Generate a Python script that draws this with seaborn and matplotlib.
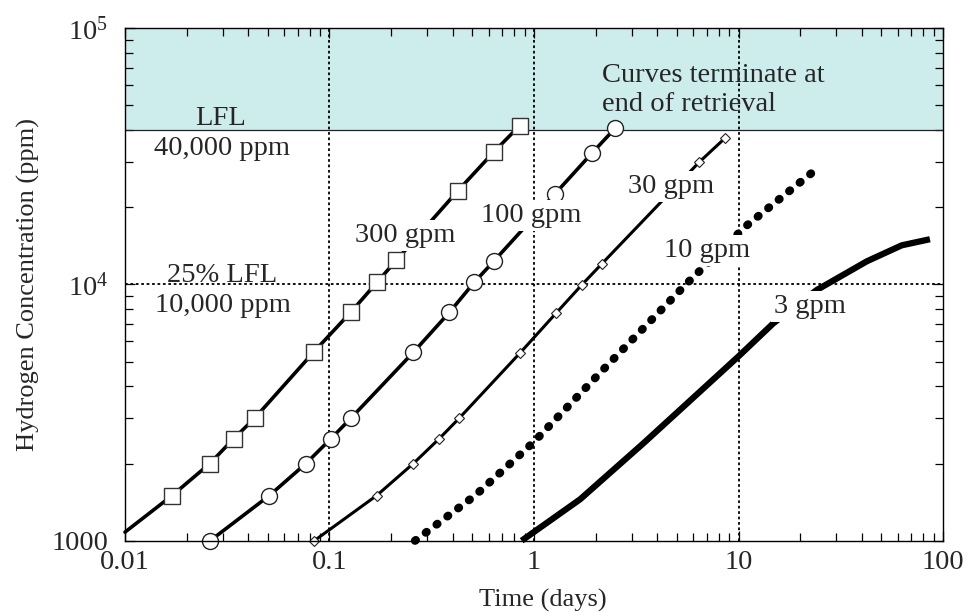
import matplotlib
matplotlib.use("Agg")
import matplotlib.pyplot as plt
import seaborn as sns
import pandas as pd
from matplotlib.ticker import LogLocator, NullFormatter

# ---------------- data ----------------
t_300 = [0.01, 0.017, 0.026, 0.034, 0.043, 0.084, 0.127, 0.171, 0.212, 0.425, 0.637, 0.851]
c_300 = [1080, 1500, 2000, 2500, 3000, 5460, 7780, 10200, 12400, 23200, 32900, 41600]

t_100 = [0.0261, 0.0508, 0.0767, 0.1016, 0.127, 0.257, 0.386, 0.510, 0.637, 1.27, 1.92, 2.49]
c_100 = [1000, 1500, 2000, 2500, 3000, 5430, 7780, 10180, 12330, 22600, 32500, 40600]

t_30 = [0.0843, 0.170, 0.257, 0.344, 0.430, 0.851, 1.28, 1.71, 2.14, 6.43, 8.59]
c_30 = [1000, 1500, 2000, 2500, 3000, 5380, 7710, 9940, 12000, 30000, 37200]

t_10 = [0.262, 0.515, 1.0, 2.10, 5.60, 10.9, 24.1]
c_10 = [1000, 1500, 2430, 4510, 10100, 16900, 28200]

t_3 = [0.87, 1.68, 3.43, 9.98, 14.8, 24.1, 42.4, 62.8, 86.3]
c_3 = [1000, 1450, 2400, 5230, 7050, 9500, 12300, 14200, 15000]

lfl = 40000
lfl_25 = 10000
grid_x = [0.1, 1, 10]

x_ticks = [0.01, 0.1, 1, 10, 100]
x_ticklabels = ["0.01", "0.1", "1", "10", "100"]
y_ticks = [1000, 10000, 100000]
y_ticklabels = ["1000", r"$\mathregular{10^4}$", r"$\mathregular{10^5}$"]

series_labels = ["300 gpm", "100 gpm", "30 gpm", "10 gpm", "3 gpm"]

# ---------------- style ----------------
sns.set_theme(style="ticks")
plt.rcParams["font.family"] = ["Liberation Serif", "DejaVu Serif"]
plt.rcParams["mathtext.fontset"] = "custom"
plt.rcParams["mathtext.rm"] = "Liberation Serif"
plt.rcParams["mathtext.it"] = "Liberation Serif:italic"
plt.rcParams["mathtext.bf"] = "Liberation Serif:bold"

FS = 20.5

fig = plt.figure(figsize=(9.68, 6.12), dpi=100)
ax = fig.add_axes([0.1291, 0.1165, 0.8451, 0.8377])
ax.set_xscale("log")
ax.set_yscale("log")
ax.set_xlim(0.01, 100)
ax.set_ylim(1000, 100000)

# shaded LFL region and reference lines
ax.axhspan(lfl, 100000, color="#cdecec", zorder=0, lw=0)
ax.axhline(lfl, color="#222222", lw=0.9, zorder=1)
ax.axhline(lfl_25, color="black", lw=1.3, ls=(0, (1.5, 1.5)), zorder=1)
for gx in grid_x:
    ax.axvline(gx, color="black", lw=1.3, ls=(0, (1.5, 1.5)), zorder=1)

common = dict(ax=ax, color="black", errorbar=None, sort=False, clip_on=False, legend=False)

sns.lineplot(x=t_300, y=c_300, linewidth=2.6, marker="s", markersize=11,
             markerfacecolor="white", markeredgecolor="#333333", markeredgewidth=1.0,
             markevery=list(range(1, len(t_300))), zorder=3, **common)
sns.lineplot(x=t_100, y=c_100, linewidth=2.6, marker="o", markersize=11.5,
             markerfacecolor="white", markeredgecolor="#222222", markeredgewidth=1.0,
             zorder=3, **common)
sns.lineplot(x=t_30, y=c_30, linewidth=2.2, marker="D", markersize=4.6,
             markerfacecolor="white", markeredgecolor="#222222", markeredgewidth=0.8,
             zorder=3, **common)
ln10 = sns.lineplot(x=t_10, y=c_10, linewidth=6.0, zorder=3, **common).lines[-1]
ln10.set_dashes((0.12, 1.5))
ln10.set_dash_capstyle("round")
sns.lineplot(x=t_3, y=c_3, linewidth=4.5, zorder=3, solid_capstyle="butt", **common)

# ---------------- labels ----------------
box = dict(boxstyle="square,pad=0.1", facecolor="white", edgecolor="none")
ax.text(0.0292, 41830, "LFL", fontsize=FS, ha="center", va="baseline", zorder=5)
ax.text(0.0297, 31950, "40,000 ppm", fontsize=FS, ha="center", va="baseline", zorder=5)
ax.text(0.0297, 10235, "25% LFL", fontsize=FS, ha="center", va="baseline", zorder=5)
ax.text(0.0303, 7819, "10,000 ppm", fontsize=FS, ha="center", va="baseline", zorder=5)

label_pos = [(0.234, 14663), (0.965, 17550), (4.67, 22780), (7.05, 12815), (22.4, 7708)]
for lab, (lx, ly) in zip(series_labels, label_pos):
    ax.text(lx, ly, lab, fontsize=FS, ha="center", va="baseline", bbox=box, zorder=6)

ax.text(2.14, 61740, "Curves terminate at", fontsize=FS, ha="left", va="baseline", zorder=5)
ax.text(2.14, 47580, "end of retrieval", fontsize=FS, ha="left", va="baseline", zorder=5)

# ---------------- axes ----------------
ax.set_xticks(x_ticks)
ax.set_xticklabels(x_ticklabels)
ax.set_yticks(y_ticks)
ax.set_yticklabels(y_ticklabels)
ax.xaxis.set_minor_locator(LogLocator(base=10, subs=range(2, 10)))
ax.yaxis.set_minor_locator(LogLocator(base=10, subs=range(2, 10)))
ax.xaxis.set_minor_formatter(NullFormatter())
ax.yaxis.set_minor_formatter(NullFormatter())

ax.tick_params(which="both", direction="in", top=True, right=True, color="black", width=0.9)
ax.tick_params(which="major", length=7)
ax.tick_params(which="minor", length=5.5)
ax.tick_params(axis="x", which="major", labelsize=FS, pad=7)
ax.tick_params(axis="y", which="major", labelsize=FS, pad=12)

for sp in ax.spines.values():
    sp.set_color("black")
    sp.set_linewidth(1.0)
    sp.set_zorder(4)

ax.set_xlabel("Time (days)", fontsize=19, labelpad=10)
ax.xaxis.label.set_x(0.511)
ax.set_ylabel("Hydrogen Concentration (ppm)", fontsize=19, labelpad=8)

fig.savefig("out.png", dpi=100, facecolor="white")
